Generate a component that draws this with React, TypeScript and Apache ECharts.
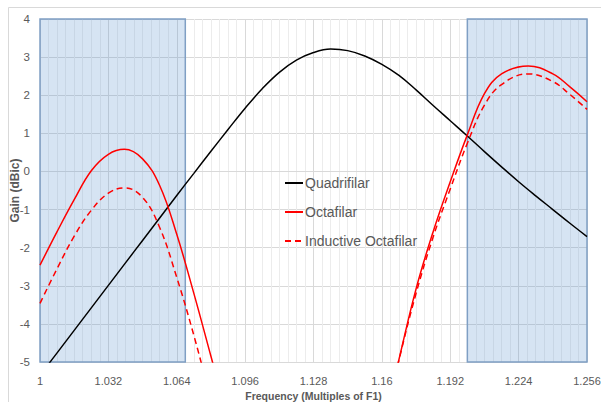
import React, { useEffect, useRef } from "react";
import * as echarts from "echarts";

// Quadrifilar: frequency (multiples of F1) and gain (dBic)
const quadFreq = [
  1.0, 1.008, 1.016, 1.024, 1.032, 1.04, 1.048, 1.056, 1.064, 1.072, 1.08,
  1.088, 1.096, 1.104, 1.112, 1.12, 1.128, 1.136, 1.144, 1.152, 1.16, 1.168,
  1.176, 1.184, 1.192, 1.2, 1.208, 1.216, 1.224, 1.232, 1.24, 1.248, 1.256,
];
const quadGain = [
  -5.35, -4.76, -4.17, -3.58, -2.99, -2.4, -1.81, -1.22, -0.63, -0.05, 0.53,
  1.1, 1.66, 2.17, 2.6, 2.92, 3.12, 3.21, 3.17, 3.03, 2.81, 2.52, 2.14, 1.73,
  1.33, 0.93, 0.52, 0.12, -0.27, -0.64, -1.0, -1.36, -1.71,
];

// Octafilar (null = gap, curve leaves the chart)
const octaFreq = [
  1.0, 1.008, 1.016, 1.024, 1.032, 1.0395, 1.048, 1.056, 1.064, 1.072, 1.08,
  1.088, 1.12, 1.16, 1.168, 1.176, 1.184, 1.192, 1.2, 1.208, 1.216, 1.2285,
  1.24, 1.248, 1.256,
];
const octaGain = [
  -2.46, -1.58, -0.74, 0.02, 0.45, 0.58, 0.33, -0.37, -1.65, -3.2, -4.85,
  -6.5, null, -6.8, -4.93, -3.08, -1.58, -0.27, 0.96, 2.04, 2.56, 2.77, 2.56,
  2.22, 1.83,
];

// Inductive Octafilar
const indFreq = [
  1.0, 1.008, 1.016, 1.024, 1.032, 1.0395, 1.048, 1.056, 1.064, 1.072, 1.08,
  1.12, 1.16, 1.168, 1.176, 1.184, 1.192, 1.2, 1.208, 1.216, 1.2285, 1.24,
  1.248, 1.256,
];
const indGain = [
  -3.46, -2.55, -1.7, -1.02, -0.57, -0.43, -0.68, -1.47, -2.78, -4.3, -6.0,
  null, -6.9, -4.95, -3.2, -1.72, -0.46, 0.74, 1.74, 2.28, 2.56, 2.36, 2.02,
  1.63,
];

// Shaded frequency bands
const shadedBands = [
  [1.0, 1.068],
  [1.2, 1.256],
];

const xTicks = { min: 1.0, max: 1.256, step: 0.032 };
const yTicks = { min: -5, max: 4, step: 1 };

const FONT = "'Liberation Sans', Arial, sans-serif";
const TEXT = "#595959";

export default function App() {
  const ref = useRef<HTMLDivElement>(null);

  useEffect(() => {
    if (!ref.current) return;
    const chart = echarts.init(ref.current, undefined, { renderer: "svg" });
    const F0 = xTicks.min;
    const toData = (fs: number[], vals: (number | null)[]) =>
      fs.map((f, i) => [+(f - F0).toFixed(4), vals[i] === null ? "-" : vals[i]]);

    chart.setOption({
      animation: false,
      backgroundColor: "#ffffff",
      textStyle: { fontFamily: FONT },
      grid: {
        left: 40,
        right: 14,
        top: 19,
        bottom: 40,
        containLabel: false,
        outerBoundsMode: "none",
      },
      graphic: [
        {
          type: "rect",
          z: -10,
          silent: true,
          shape: { x: 8.5, y: 7.5, width: 600, height: 400 },
          style: { fill: "none", stroke: "#d9d9d9", lineWidth: 1 },
        },
      ],
      legend: {
        orient: "vertical",
        left: 284,
        top: 175,
        padding: 0,
        itemWidth: 18,
        itemHeight: 16,
        itemGap: 13,
        itemStyle: { opacity: 0 },
        data: ["Quadrifilar", "Octafilar", "Inductive Octafilar"],
        textStyle: {
          color: TEXT,
          fontSize: 14,
          fontFamily: FONT,
          lineHeight: 16,
          padding: [0, 0, 0, -3],
        },
      },
      xAxis: {
        type: "value",
        min: 0,
        max: +(xTicks.max - F0).toFixed(3),
        interval: xTicks.step,
        name: "Frequency (Multiples of F1)",
        nameLocation: "middle",
        nameGap: 28,
        nameTextStyle: {
          color: TEXT,
          fontWeight: "bold",
          fontSize: 10.5,
          fontFamily: FONT,
        },
        axisLabel: {
          color: TEXT,
          fontSize: 11,
          fontFamily: FONT,
          margin: 13,
          formatter: (v: number) => String(+(F0 + v).toFixed(3)),
        },
        axisLine: { show: true, lineStyle: { color: "#d9d9d9", width: 1 } },
        axisTick: { show: false },
        splitLine: { show: true, lineStyle: { color: "#d9d9d9", width: 1 } },
        minorTick: { show: false, splitNumber: 8 },
        minorSplitLine: { show: true, lineStyle: { color: "#ececec", width: 1 } },
      },
      yAxis: {
        type: "value",
        min: yTicks.min,
        max: yTicks.max,
        interval: yTicks.step,
        name: "Gain (dBic)",
        nameLocation: "middle",
        nameGap: 19,
        nameMoveOverlap: false,
        nameTextStyle: {
          color: TEXT,
          fontWeight: "bold",
          fontSize: 12,
          fontFamily: FONT,
        },
        axisLabel: { color: TEXT, fontSize: 11.5, fontFamily: FONT, margin: 10 },
        axisLine: { show: false },
        axisTick: { show: false },
        splitLine: { show: true, lineStyle: { color: "#d9d9d9", width: 1 } },
      },
      series: [
        {
          name: "Quadrifilar",
          type: "line",
          data: toData(quadFreq, quadGain),
          smooth: 0.4,
          symbol: "none",
          z: 2,
          lineStyle: { color: "#000000", width: 1.5 },
          itemStyle: { color: "#000000" },
        },
        {
          name: "Octafilar",
          type: "line",
          data: toData(octaFreq, octaGain),
          smooth: 0.4,
          symbol: "none",
          connectNulls: false,
          z: 2,
          lineStyle: { color: "#ff0000", width: 1.5 },
          itemStyle: { color: "#ff0000" },
        },
        {
          name: "Inductive Octafilar",
          type: "line",
          data: toData(indFreq, indGain),
          smooth: 0.4,
          symbol: "none",
          connectNulls: false,
          z: 2,
          lineStyle: { color: "#ff0000", width: 1.5, type: [6, 4] },
          itemStyle: { color: "#ff0000" },
        },
        {
          name: "bands",
          type: "line",
          data: [],
          z: 5,
          silent: true,
          markArea: {
            silent: true,
            itemStyle: {
              color: "rgba(91,147,207,0.25)",
              borderColor: "#7f9fc4",
              borderWidth: 1.5,
            },
            data: shadedBands.map(([a, b]) => [
              { xAxis: +(a - F0).toFixed(3) },
              { xAxis: +(b - F0).toFixed(3) },
            ]),
          },
        },
      ],
    });

    return () => chart.dispose();
  }, []);

  return (
    <div
      ref={ref}
      style={{ position: "absolute", left: 0, top: 0, width: 601, height: 402 }}
    />
  );
}
